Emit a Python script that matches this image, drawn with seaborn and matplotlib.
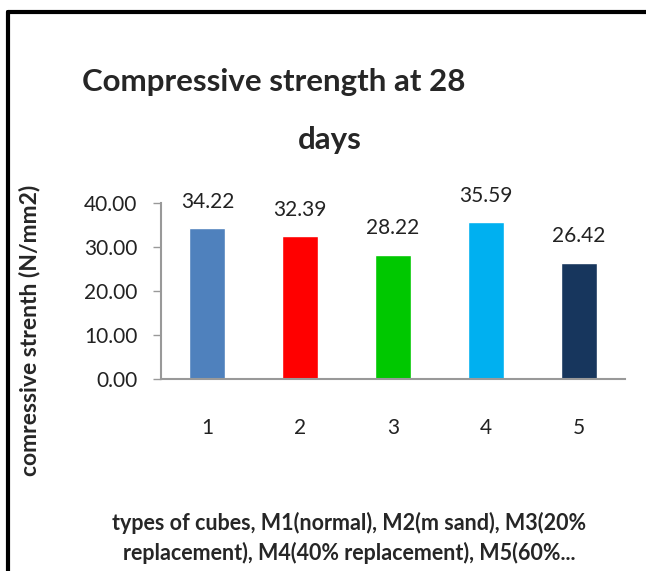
import matplotlib
matplotlib.use("Agg")
import matplotlib.pyplot as plt
import seaborn as sns
import pandas as pd
from matplotlib.lines import Line2D

categories = ["1", "2", "3", "4", "5"]
values = [34.22, 32.39, 28.22, 35.59, 26.42]
colors = ["#4F81BD", "#FF0000", "#00C800", "#00B0F0", "#17365D"]
yticks = [0, 10, 20, 30, 40]
title_lines = ["Compressive strength at 28", "days"]
ylabel = "comressive strenth (N/mm2)"
xlabel = "types of cubes, M1(normal), M2(m sand), M3(20%\nreplacement), M4(40% replacement), M5(60%..."

sns.set_style("white")
plt.rcParams["font.family"] = ["Lato", "DejaVu Sans"]

df = pd.DataFrame({"cat": categories, "val": values})

fig = plt.figure(figsize=(6.46, 5.71), dpi=100)
ax = fig.add_axes([161/646, 1-379/571, 464/646, 176/571])

sns.barplot(data=df, x="cat", y="val", hue="cat", palette=colors, legend=False,
            width=0.39, ax=ax, saturation=1)

ax.set_ylim(0, 40)
ax.set_xlim(-0.5, 4.5)
ax.set_yticks(yticks)
ax.set_yticklabels([f"{v:.2f}" for v in yticks], fontsize=15, color="#222222")
ax.tick_params(axis="y", length=6, width=1, color="#999999", direction="out", left=True, pad=11)
ax.tick_params(axis="x", length=0, pad=28, labelsize=15, labelcolor="#222222")
for s in ["top", "right"]:
    ax.spines[s].set_visible(False)
for s in ["left", "bottom"]:
    ax.spines[s].set_color("#999999")
    ax.spines[s].set_linewidth(1.5)

for i, v in enumerate(values):
    ax.annotate(f"{v:.2f}", (i, v), xytext=(0, 12), textcoords="offset points",
                ha="center", va="bottom", fontsize=15, color="#222222")

ax.set_xlabel(xlabel, fontsize=15.5, fontweight="bold", labelpad=53, linespacing=1.45, x=0.405)
ax.set_ylabel(ylabel, fontsize=16.5, fontweight="bold")
ax.yaxis.set_label_coords(-(161-40)/464, (379-330)/176)

fig.text(274/646, 1-82/571, title_lines[0], ha="center", va="center", fontsize=22.5, fontweight="bold")
fig.text(330/646, 1-140/571, title_lines[1], ha="center", va="center", fontsize=22.5, fontweight="bold")

# outer frame (top and left edges)
fig.add_artist(Line2D([8/646, 1.0], [1-12/571, 1-12/571], transform=fig.transFigure, color="black", lw=3))
fig.add_artist(Line2D([8/646, 8/646], [0, 1-12/571], transform=fig.transFigure, color="black", lw=3))

fig.savefig("out.png", dpi=100)
